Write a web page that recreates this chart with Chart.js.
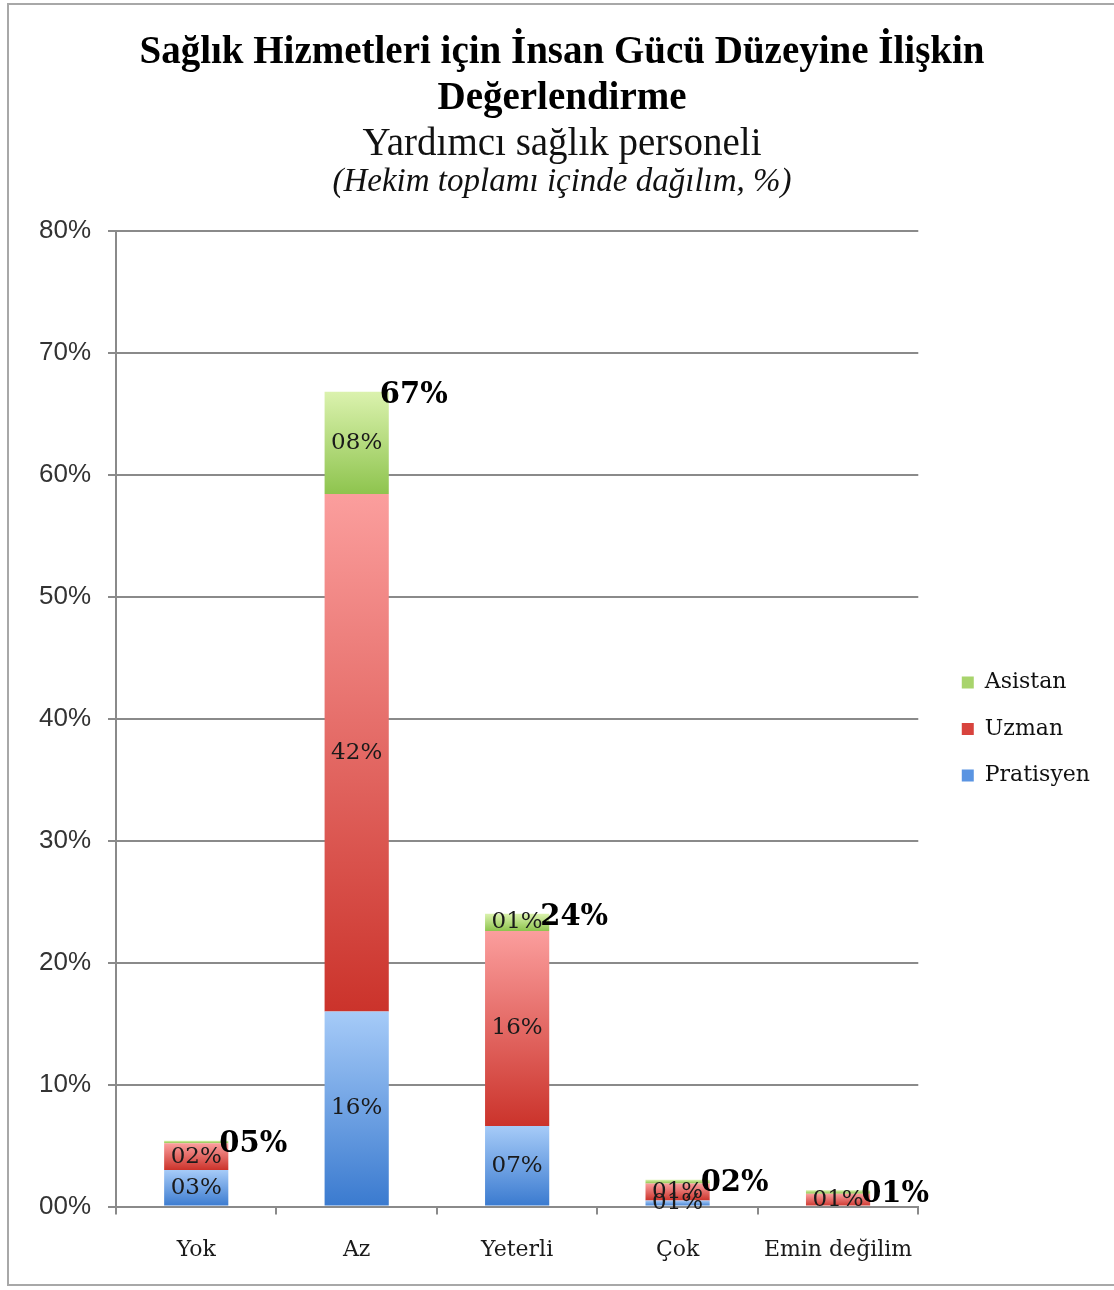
<!DOCTYPE html>
<html lang="tr">
<head>
    <meta charset="UTF-8">
    <title>Sağlık Hizmetleri için İnsan Gücü Düzeyine İlişkin Değerlendirme</title>
    <script src="https://cdn.jsdelivr.net/npm/chart.js"></script>
    <style>
        body {
            margin: 0;
            padding: 0;
            background-color: #fff;
        }
        .frame {
            position: absolute;
            left: 7px;
            top: 3px;
            width: 1110px;
            height: 1283px;
            border: 2px solid #a8a8a8;
            box-sizing: border-box;
        }
        .chart-box {
            position: absolute;
            left: 0;
            top: 0;
            width: 1114px;
            height: 1290px;
        }
    </style>
</head>
<body>
    <div class="frame"></div>
    <div class="chart-box">
        <canvas id="staffChart"></canvas>
    </div>

    <script>
        const categories = ['Yok', 'Az', 'Yeterli', 'Çok', 'Emin değilim'];
        const pratisyen = [3.0, 16.0, 6.6, 0.5, 0.0];
        const uzman = [2.2, 42.4, 16.0, 1.4, 1.05];
        const asistan = [0.2, 8.4, 1.4, 0.3, 0.3];
        const yTickValues = [0, 10, 20, 30, 40, 50, 60, 70, 80];

        const titleLines = ['Sağlık Hizmetleri için İnsan Gücü Düzeyine İlişkin', 'Değerlendirme'];
        const subtitleText = 'Yardımcı sağlık personeli';
        const noteText = '(Hekim toplamı içinde dağılım, %)';

        // solid swatch colours for the legend (Pratisyen, Uzman, Asistan)
        const legendColors = ['#5a94e2', '#d8433d', '#a8d46c'];

        function pct(v) {
            return String(Math.round(v)).padStart(2, '0') + '%';
        }

        // vertical gradient per bar segment, light on top
        function segmentGradient(light, dark) {
            return (ctx) => {
                if (ctx.type !== 'data') return dark;
                const chart = ctx.chart;
                if (!chart.chartArea) return dark;
                const y = chart.scales.y;
                let start = 0;
                for (let i = 0; i < ctx.datasetIndex; i++) {
                    start += chart.data.datasets[i].data[ctx.dataIndex];
                }
                const top = y.getPixelForValue(start + ctx.raw);
                const bottom = y.getPixelForValue(start);
                if (!isFinite(top) || bottom - top < 1) return dark;
                const g = chart.ctx.createLinearGradient(0, top, 0, bottom);
                g.addColorStop(0, light);
                g.addColorStop(1, dark);
                return g;
            };
        }

        const labelPlugin = {
            id: 'barLabels',
            afterDatasetsDraw(chart) {
                const ctx = chart.ctx;
                const sets = chart.data.datasets;
                ctx.save();
                ctx.fillStyle = '#1a1a1a';
                ctx.font = '23px "DejaVu Serif"';
                ctx.textAlign = 'center';
                ctx.textBaseline = 'middle';
                sets.forEach((ds, di) => {
                    chart.getDatasetMeta(di).data.forEach((bar, i) => {
                        const v = ds.data[i];
                        if (v < 0.5) return;
                        ctx.fillText(pct(v), bar.x, (bar.y + bar.base) / 2);
                    });
                });

                // totals next to the top of each stack
                const topMeta = chart.getDatasetMeta(sets.length - 1);
                ctx.font = 'bold 29px "DejaVu Serif"';
                ctx.fillStyle = '#000';
                ctx.textAlign = 'left';
                topMeta.data.forEach((bar, i) => {
                    let total = 0;
                    sets.forEach(ds => { total += ds.data[i]; });
                    ctx.fillText(pct(total), bar.x + bar.width / 2 - 9, bar.y + 4);
                });
                ctx.restore();
            },
            afterDraw(chart) {
                const ctx = chart.ctx;
                const tb = chart.titleBlock;
                ctx.save();
                ctx.fillStyle = '#111';
                ctx.font = 'italic 33px "Liberation Serif"';
                ctx.textAlign = 'center';
                ctx.textBaseline = 'middle';
                ctx.fillText(noteText, (tb.left + tb.right) / 2, chart.chartArea.top - 48);
                ctx.restore();
            }
        };

        new Chart(document.getElementById('staffChart').getContext('2d'), {
            type: 'bar',
            data: {
                labels: categories,
                datasets: [{
                    label: 'Pratisyen',
                    data: pratisyen,
                    backgroundColor: segmentGradient('#a6cbf8', '#3a7acf')
                }, {
                    label: 'Uzman',
                    data: uzman,
                    backgroundColor: segmentGradient('#fb9e9d', '#cb332b')
                }, {
                    label: 'Asistan',
                    data: asistan,
                    backgroundColor: segmentGradient('#dbf2ae', '#8ec44e')
                }]
            },
            options: {
                responsive: true,
                maintainAspectRatio: false,
                animation: false,
                barPercentage: 0.4,
                categoryPercentage: 1.0,
                layout: {
                    padding: { left: 24, right: 14, top: 0, bottom: 5 }
                },
                plugins: {
                    title: {
                        display: true,
                        text: titleLines,
                        color: '#000',
                        font: { family: 'Liberation Serif', size: 39, weight: 'bold', lineHeight: 1.18 },
                        padding: { top: 30, bottom: 0 }
                    },
                    subtitle: {
                        display: true,
                        text: subtitleText,
                        color: '#111',
                        font: { family: 'Liberation Serif', size: 39, lineHeight: 1.04 },
                        padding: { top: 2, bottom: 66 }
                    },
                    legend: {
                        position: 'right',
                        fullSize: false,
                        reverse: true,
                        title: {
                            display: true,
                            text: ' ',
                            font: { size: 1, lineHeight: 1 },
                            padding: 10
                        },
                        labels: {
                            color: '#111',
                            boxWidth: 12,
                            boxHeight: 12,
                            padding: 24.5,
                            font: { family: 'DejaVu Serif', size: 22 },
                            generateLabels: (chart) => {
                                const items = Chart.defaults.plugins.legend.labels.generateLabels(chart);
                                items.forEach(item => {
                                    item.fillStyle = legendColors[item.datasetIndex];
                                    item.strokeStyle = legendColors[item.datasetIndex];
                                    item.lineWidth = 0;
                                });
                                return items;
                            }
                        }
                    },
                    tooltip: { enabled: false }
                },
                scales: {
                    x: {
                        stacked: true,
                        grid: {
                            offset: true,
                            drawOnChartArea: false,
                            drawTicks: true,
                            tickLength: 8,
                            color: '#8a8a8a',
                            lineWidth: 2
                        },
                        border: { display: true, color: '#8a8a8a', width: 2 },
                        ticks: {
                            color: '#1a1a1a',
                            padding: 22,
                            font: { family: 'DejaVu Serif', size: 22 }
                        }
                    },
                    y: {
                        stacked: true,
                        min: 0,
                        max: 80,
                        afterBuildTicks: (scale) => {
                            scale.ticks = yTickValues.map(v => ({ value: v }));
                        },
                        afterFit: (scale) => {
                            scale.width = 92;
                        },
                        grid: {
                            color: '#8a8a8a',
                            lineWidth: 2,
                            tickLength: 8
                        },
                        border: { display: true, color: '#8a8a8a', width: 2 },
                        ticks: {
                            color: '#333',
                            padding: 17,
                            font: { family: 'Liberation Sans', size: 26 },
                            callback: (v) => pct(v)
                        }
                    },
                    gap: {
                        position: 'right',
                        display: true,
                        grid: { display: false },
                        border: { display: false },
                        ticks: { display: false },
                        afterFit: (scale) => {
                            scale.width = 19;
                        }
                    }
                }
            },
            plugins: [labelPlugin]
        });
    </script>
</body>
</html>
